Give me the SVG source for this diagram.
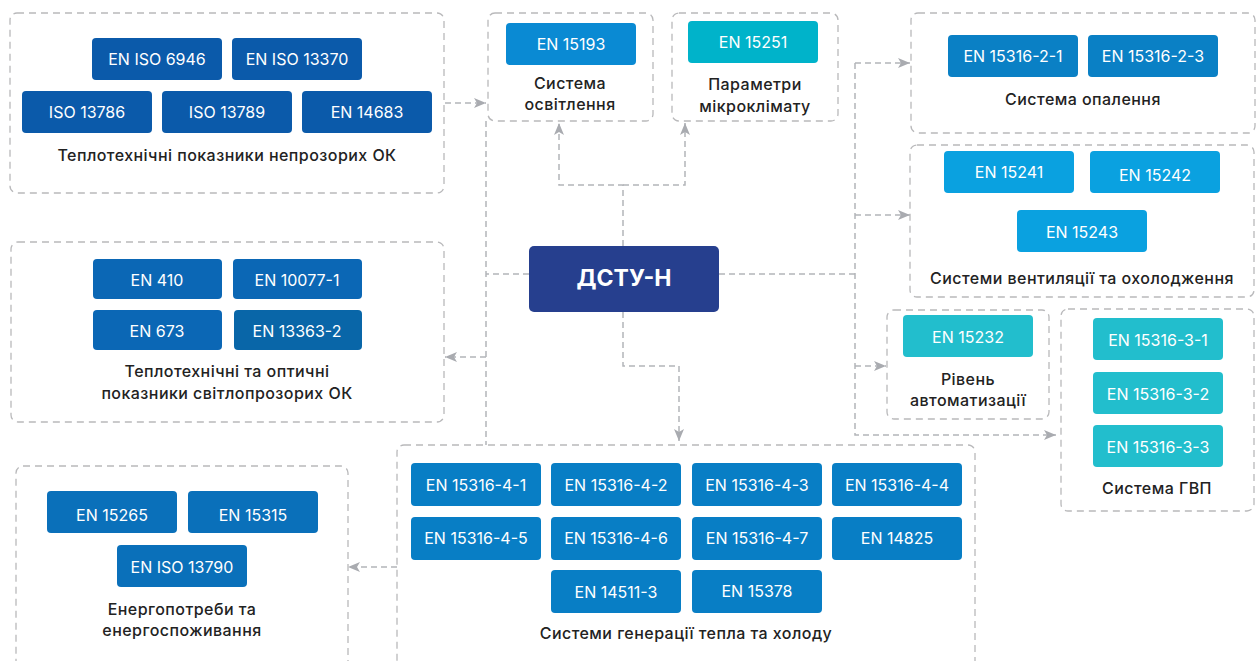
<svg xmlns="http://www.w3.org/2000/svg" width="1258" height="661" viewBox="0 0 1258 661">
<style>
.c{fill:none;stroke:#b9b9bb;stroke-width:1.3;stroke-dasharray:7 5}
.t{font-family:Inter,"Noto Sans",sans-serif;font-size:16px;fill:#fff;text-anchor:middle}
.l{font-family:Inter,"Noto Sans",sans-serif;font-size:16px;font-weight:500;letter-spacing:0.45px;fill:#222;text-anchor:middle}
.k{fill:none;stroke:#b3b5b9;stroke-width:1.5;stroke-dasharray:6 4}
.c1{fill:#0B5AAA}.c2{fill:#0A8AD3}.c3{fill:#00B3CA}.c4{fill:#0A80C5}.c5{fill:#0AA1E0}
.c6{fill:#0B67B5}.c7{fill:#0966A8}.c8{fill:#22BECD}.c9{fill:#0A70BA}.c10{fill:#087EC5}
</style>
<defs>
<marker id="ah" viewBox="0 0 12 10" refX="12" refY="5" markerWidth="12" markerHeight="10" markerUnits="userSpaceOnUse" orient="auto">
<path d="M0,0 L12,5 L0,10 L3,5 z" fill="#a9abb0"/>
</marker>
</defs>
<rect width="1258" height="661" fill="#fff"/>

<g id="connectors">
<path class="k" d="M445,103 H486" marker-end="url(#ah)"/>
<path class="k" d="M486,121 V445"/>
<path class="k" d="M529,274 H486"/>
<path class="k" d="M486,357 H445" marker-end="url(#ah)"/>
<path class="k" d="M623,246 V185 H559 V123" marker-end="url(#ah)"/>
<path class="k" d="M623,185 H685 V123" marker-end="url(#ah)"/>
<path class="k" d="M719,274 H855"/>
<path class="k" d="M855,63 V435 H1056" marker-end="url(#ah)"/>
<path class="k" d="M855,63 H910" marker-end="url(#ah)"/>
<path class="k" d="M855,215 H910" marker-end="url(#ah)"/>
<path class="k" d="M855,366 H886" marker-end="url(#ah)"/>
<path class="k" d="M623,312 V366 H679 V441" marker-end="url(#ah)"/>
<path class="k" d="M397,567 H348" marker-end="url(#ah)"/>
</g>

<g id="center">
<rect x="529" y="246" width="190" height="66" rx="5" fill="#263F8E"/>
<text x="624" y="286" font-family="Inter,'Noto Sans',sans-serif" font-size="23" font-weight="700" fill="#fff" text-anchor="middle">ДСТУ-Н</text>
</g>

<g id="opaque">
<rect class="c" x="10" y="13" width="434" height="180" rx="7"/>
<rect class="c1" x="92" y="38" width="130" height="42" rx="4"/><text class="t" x="157" y="65">EN ISO 6946</text>
<rect class="c1" x="232" y="38" width="130" height="42" rx="4"/><text class="t" x="297" y="65">EN ISO 13370</text>
<rect class="c1" x="22" y="91" width="130" height="42" rx="4"/><text class="t" x="87" y="118">ISO 13786</text>
<rect class="c1" x="162" y="91" width="130" height="42" rx="4"/><text class="t" x="227" y="118">ISO 13789</text>
<rect class="c1" x="302" y="91" width="130" height="42" rx="4"/><text class="t" x="367" y="118">EN 14683</text>
<text class="l" x="227" y="161">Теплотехнічні показники непрозорих ОК</text>
</g>

<g id="lighting">
<rect class="c" x="488" y="13" width="165" height="108" rx="7"/>
<rect class="c2" x="506" y="23" width="130" height="42" rx="4"/><text class="t" x="571" y="50">EN 15193</text>
<text class="l" x="570" y="89">Система</text>
<text class="l" x="570" y="110">освітлення</text>
</g>

<g id="microclimate">
<rect class="c" x="672" y="13" width="166" height="108" rx="7"/>
<rect class="c3" x="688" y="21" width="130" height="42" rx="4"/><text class="t" x="753" y="48">EN 15251</text>
<text class="l" x="755" y="90">Параметри</text>
<text class="l" x="755" y="112">мікроклімату</text>
</g>

<g id="heating">
<rect class="c" x="911" y="13" width="344" height="120" rx="7"/>
<rect class="c4" x="948" y="35" width="130" height="42" rx="4"/><text class="t" x="1013" y="62">EN 15316-2-1</text>
<rect class="c4" x="1088" y="35" width="130" height="42" rx="4"/><text class="t" x="1153" y="62">EN 15316-2-3</text>
<text class="l" x="1083" y="105">Система опалення</text>
</g>

<g id="ventilation">
<rect class="c" x="910" y="145" width="344" height="152" rx="7"/>
<rect class="c5" x="944" y="151" width="130" height="42" rx="4"/><text class="t" x="1009" y="178">EN 15241</text>
<rect class="c5" x="1090" y="151" width="130" height="42" rx="4"/><text class="t" x="1155" y="181">EN 15242</text>
<rect class="c5" x="1017" y="210" width="130" height="42" rx="4"/><text class="t" x="1082" y="238">EN 15243</text>
<text class="l" x="1082" y="284">Системи вентиляції та охолодження</text>
</g>

<g id="automation">
<rect class="c" x="887" y="310" width="162" height="109" rx="7"/>
<rect class="c8" x="903" y="315" width="130" height="42" rx="4"/><text class="t" x="968" y="343">EN 15232</text>
<text class="l" x="968" y="385">Рівень</text>
<text class="l" x="968" y="406">автоматизації</text>
</g>

<g id="dhw">
<rect class="c" x="1061" y="309" width="193" height="202" rx="7"/>
<rect class="c8" x="1093" y="318" width="130" height="42" rx="4"/><text class="t" x="1158" y="346">EN 15316-3-1</text>
<rect class="c8" x="1093" y="372" width="130" height="42" rx="4"/><text class="t" x="1158" y="400">EN 15316-3-2</text>
<rect class="c8" x="1093" y="425" width="130" height="42" rx="4"/><text class="t" x="1158" y="453">EN 15316-3-3</text>
<text class="l" x="1157" y="494">Система ГВП</text>
</g>

<g id="transparent">
<rect class="c" x="11" y="242" width="433" height="180" rx="7"/>
<rect class="c6" x="93" y="259" width="129" height="40" rx="4"/><text class="t" x="157" y="286">EN 410</text>
<rect class="c6" x="233" y="259" width="129" height="40" rx="4"/><text class="t" x="297" y="286">EN 10077-1</text>
<rect class="c6" x="93" y="310" width="129" height="40" rx="4"/><text class="t" x="157" y="337">EN 673</text>
<rect class="c7" x="234" y="310" width="128" height="40" rx="4"/><text class="t" x="297" y="337">EN 13363-2</text>
<text class="l" x="227" y="377">Теплотехнічні та оптичні</text>
<text class="l" x="227" y="399">показники світлопрозорих ОК</text>
</g>

<g id="energy">
<rect class="c" x="16" y="466" width="332" height="220" rx="7"/>
<rect class="c9" x="47" y="491" width="130" height="42" rx="4"/><text class="t" x="112" y="521">EN 15265</text>
<rect class="c9" x="188" y="491" width="130" height="42" rx="4"/><text class="t" x="253" y="521">EN 15315</text>
<rect class="c9" x="117" y="545" width="130" height="42" rx="4"/><text class="t" x="182" y="573">EN ISO 13790</text>
<text class="l" x="182" y="615">Енергопотреби та</text>
<text class="l" x="182" y="636">енергоспоживання</text>
</g>

<g id="generation">
<rect class="c" x="397" y="445" width="578" height="240" rx="7"/>
<rect class="c10" x="411" y="463" width="130" height="43" rx="4"/><text class="t" x="476" y="491">EN 15316-4-1</text>
<rect class="c10" x="551" y="463" width="130" height="43" rx="4"/><text class="t" x="616" y="491">EN 15316-4-2</text>
<rect class="c10" x="692" y="463" width="130" height="43" rx="4"/><text class="t" x="757" y="491">EN 15316-4-3</text>
<rect class="c10" x="832" y="463" width="130" height="43" rx="4"/><text class="t" x="897" y="491">EN 15316-4-4</text>
<rect class="c10" x="411" y="517" width="130" height="43" rx="4"/><text class="t" x="476" y="544">EN 15316-4-5</text>
<rect class="c10" x="551" y="517" width="130" height="43" rx="4"/><text class="t" x="616" y="544">EN 15316-4-6</text>
<rect class="c10" x="692" y="517" width="130" height="43" rx="4"/><text class="t" x="757" y="544">EN 15316-4-7</text>
<rect class="c10" x="832" y="517" width="130" height="43" rx="4"/><text class="t" x="897" y="544">EN 14825</text>
<rect class="c10" x="551" y="570" width="130" height="43" rx="4"/><text class="t" x="616" y="598">EN 14511-3</text>
<rect class="c10" x="692" y="570" width="130" height="43" rx="4"/><text class="t" x="757" y="597">EN 15378</text>
<text class="l" x="686" y="639">Системи генерації тепла та холоду</text>
</g>
</svg>
